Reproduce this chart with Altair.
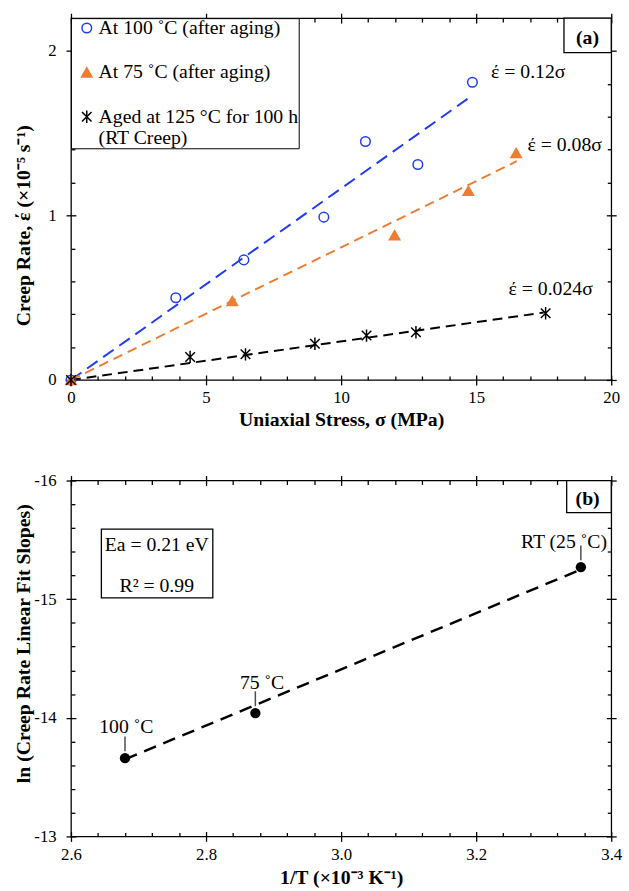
import altair as alt
import pandas as pd

SERIF = "Liberation Serif"
BLUE = "#1f3cf0"
ORANGE = "#ee7d32"
BLACK = "#000000"

# ---------------- Panel (a): creep rate vs stress ----------------
series_names = ["At 100 ˚C (after aging)", "At 75 ˚C (after aging)",
                "Aged at 125 °C for 100 h|(RT Creep)"]
stress_100 = [0, 3.88, 6.40, 9.36, 10.9, 12.84, 14.86]
rate_100 = [0, 0.50, 0.73, 0.99, 1.45, 1.31, 1.81]
stress_75 = [0, 5.97, 11.98, 14.71, 16.48]
rate_75 = [0, 0.48, 0.88, 1.15, 1.38]
stress_rt = [0, 4.41, 6.46, 9.03, 10.94, 12.77, 17.57]
rate_rt = [0, 0.14, 0.156, 0.22, 0.27, 0.29, 0.406]

fit_stress = [[0, 14.86], [0, 16.5], [0, 17.5]]
fit_rate = [[0, 1.73], [0, 1.33], [0, 0.41]]
fit_labels = ["έ = 0.12σ", "έ = 0.08σ", "έ = 0.024σ"]
fit_label_x = [15.55, 16.9, 16.2]
fit_label_y = [1.87, 1.43, 0.55]

xa_major = [0, 5, 10, 15, 20]
xa_minor = [1, 2, 3, 4, 6, 7, 8, 9, 11, 12, 13, 14, 16, 17, 18, 19]
ya_major = [0, 1, 2]
ya_minor = [0.2, 0.4, 0.6, 0.8, 1.2, 1.4, 1.6, 1.8]

panel_a_tag = ["(a)"]
tag_a_box = {"x": [18.25], "x2": [20], "y": [1.99], "y2": [2.2], "tx": [19.12], "ty": [2.08]}

# ---------------- Panel (b): Arrhenius plot ----------------
inv_T = [2.68, 2.873, 3.355]
ln_slope = [-13.66, -14.04, -15.27]
point_labels = ["100 ˚C", "75 ˚C", "RT (25 ˚C)"]
label_x = [2.682, 2.883, 3.330]
label_y = [-13.92, -14.29, -15.48]
fit_b_x = [2.68, 3.355]
fit_b_y = [-13.65, -15.25]

xb_major = [2.6, 2.8, 3.0, 3.2, 3.4]
xb_minor = [2.64, 2.68, 2.72, 2.76, 2.84, 2.88, 2.92, 2.96,
            3.04, 3.08, 3.12, 3.16, 3.24, 3.28, 3.32, 3.36]
yb_major = [-16, -15, -14, -13]
yb_minor = [-15.8, -15.6, -15.4, -15.2, -14.8, -14.6, -14.4, -14.2,
            -13.8, -13.6, -13.4, -13.2]

stats_lines = ["Ea = 0.21 eV", "R² = 0.99"]
stats_x = [2.727, 2.727]
stats_y = [-15.46, -15.11]
stats_box = {"x": [2.645], "x2": [2.81], "y": [-15.59], "y2": [-15.01]}
panel_b_tag = ["(b)"]
tag_b_box = {"x": [3.334], "x2": [3.4], "y": [-16.0], "y2": [-15.73], "tx": [3.365], "ty": [-15.84]}

# ---------------- helpers ----------------
TICK = dict(domain=False, grid=False, tickColor="black", tickWidth=1.3)


def tick_layers(df, xf, yf, xs, ys, xmaj, xmin, ymaj, ymin):
    base = alt.Chart(df).mark_point(opacity=0)
    out = []
    specs = [
        ("bottom", "left", xmin, ymin, -4, 4),
        ("top", "right", xmaj, ymaj, -5, 10),
        ("top", "right", xmin, ymin, -4, 4),
    ]
    for xo, yo, xv, yv, off, ts in specs:
        out.append(base.encode(
            x=alt.X(xf, type="quantitative", scale=xs,
                    axis=alt.Axis(orient=xo, values=xv, offset=off, tickSize=ts,
                                  labels=False, title=None, **TICK)),
            y=alt.Y(yf, type="quantitative", scale=ys,
                    axis=alt.Axis(orient=yo, values=yv, offset=off, tickSize=ts,
                                  labels=False, title=None, **TICK)),
        ))
    return out


def main_axis(orient, values, title, fmt=None, expr=None, **kw):
    args = dict(orient=orient, values=values, offset=-5, tickSize=10, title=title,
                labelFont=SERIF, labelFontSize=17, labelColor="black",
                labelFlush=False, labelOverlap=False,
                titleFont=SERIF, titleFontSize=20, titleFontWeight="bold",
                titleColor="black", titleBaseline="middle", titleAlign="center", **TICK)
    if fmt:
        args["format"] = fmt
    if expr:
        args["labelExpr"] = expr
    args.update(kw)
    return alt.Axis(**args)


# ---------------- build panel (a) ----------------
pts_a = pd.DataFrame({
    "stress": stress_100 + stress_75 + stress_rt,
    "rate": rate_100 + rate_75 + rate_rt,
    "series": [series_names[0]] * len(stress_100) + [series_names[1]] * len(stress_75)
              + [series_names[2]] * len(stress_rt),
})
xs_a = alt.Scale(domain=[0, 20], nice=False, zero=False)
ys_a = alt.Scale(domain=[0, 2.2], nice=False, zero=False)

legend = alt.Legend(title=None, orient="top-left", offset=0, padding=0,
                    strokeColor="black", fillColor="white",
                    labelFont=SERIF, labelFontSize=20, labelColor="black", labelLimit=500,
                    labelExpr="split(datum.label, '|')",
                    symbolStrokeWidth=1.5, symbolOffset=6, labelOffset=2,
                    rowPadding=25)

asterisk = "M0,-1.1L0,1.1M-0.85,-0.85L0.85,0.85M-0.85,0.85L0.85,-0.85"

points_a = alt.Chart(pts_a).mark_point(filled=False, strokeWidth=1.5, opacity=1).encode(
    x=alt.X("stress:Q", scale=xs_a,
            axis=main_axis("bottom", xa_major, "Uniaxial Stress, σ (MPa)", fmt="d",
                           labelPadding=5, titleY=45)),
    y=alt.Y("rate:Q", scale=ys_a,
            axis=main_axis("left", ya_major, "Creep Rate, έ (×10⁻⁵ s⁻¹)", fmt="d",
                           labelPadding=10, titleX=-53, titleY=210, titleAngle=270)),
    color=alt.Color("series:N", scale=alt.Scale(domain=series_names, range=[BLUE, ORANGE, BLACK]),
                    legend=legend),
    fill=alt.Fill("series:N", scale=alt.Scale(domain=series_names,
                                              range=["transparent", ORANGE, "transparent"]),
                  legend=legend),
    shape=alt.Shape("series:N", scale=alt.Scale(domain=series_names,
                                                range=["circle", "triangle-up", asterisk]),
                    legend=legend),
    size=alt.Size("series:N", scale=alt.Scale(domain=series_names, range=[95, 130, 120]),
                  legend=legend),
)

dash_styles = [[13, 7], [10, 6], [10, 6]]
line_colors = [BLUE, ORANGE, BLACK]
fit_layers = []
for i in range(3):
    df = pd.DataFrame({"stress": fit_stress[i], "rate": fit_rate[i]})
    fit_layers.append(alt.Chart(df).mark_line(color=line_colors[i], strokeDash=dash_styles[i],
                                              strokeWidth=2).encode(
        x=alt.X("stress:Q", scale=xs_a, axis=None),
        y=alt.Y("rate:Q", scale=ys_a, axis=None)))

ann_a = alt.Chart(pd.DataFrame({"x": fit_label_x, "y": fit_label_y, "t": fit_labels})).mark_text(
    font=SERIF, fontSize=20, align="left", baseline="middle", color="black").encode(
    x=alt.X("x:Q", scale=xs_a, axis=None), y=alt.Y("y:Q", scale=ys_a, axis=None), text="t:N")

tag_a_df = pd.DataFrame({**tag_a_box, "t": panel_a_tag})
tag_a_rect = alt.Chart(tag_a_df).mark_rect(fill="white", stroke="black", strokeWidth=1.3).encode(
    x=alt.X("x:Q", scale=xs_a, axis=None), x2="x2:Q",
    y=alt.Y("y:Q", scale=ys_a, axis=None), y2="y2:Q")
tag_a_text = alt.Chart(tag_a_df).mark_text(font=SERIF, fontSize=20, fontWeight="bold",
                                            baseline="middle", color="black").encode(
    x=alt.X("tx:Q", scale=xs_a, axis=None), y=alt.Y("ty:Q", scale=ys_a, axis=None), text="t:N")

panel_a = alt.layer(
    *fit_layers, points_a, ann_a, tag_a_rect, tag_a_text,
    *tick_layers(pts_a, "stress", "rate", xs_a, ys_a, xa_major, xa_minor, ya_major, ya_minor)
).resolve_scale(x="shared", y="shared").resolve_axis(x="independent", y="independent").properties(
    width=548, height=367)

# ---------------- build panel (b) ----------------
xs_b = alt.Scale(domain=[2.6, 3.4], nice=False, zero=False)
ys_b = alt.Scale(domain=[-16, -13], nice=False, zero=False, reverse=True)

pts_b = pd.DataFrame({"invT": inv_T, "ln": ln_slope, "lab": point_labels,
                      "lx": label_x, "ly": label_y})

fit_b = alt.Chart(pd.DataFrame({"invT": fit_b_x, "ln": fit_b_y})).mark_line(
    color="black", strokeDash=[13, 8], strokeWidth=2.5).encode(
    x=alt.X("invT:Q", scale=xs_b, axis=None), y=alt.Y("ln:Q", scale=ys_b, axis=None))

points_b = alt.Chart(pts_b).mark_circle(size=110, color="black", opacity=1).encode(
    x=alt.X("invT:Q", scale=xs_b,
            axis=main_axis("bottom", xb_major, "1/T (×10⁻³ K⁻¹)", fmt=".1f",
                           labelPadding=5, titleY=47)),
    y=alt.Y("ln:Q", scale=ys_b,
            axis=main_axis("left", yb_major, "ln (Creep Rate Linear Fit Slopes)",
                           expr="datum.value + ''",
                           labelPadding=10, titleX=-53, titleY=165, titleAngle=270)),
)

leaders_b = alt.Chart(pts_b).mark_tick(orient="vertical", size=15, thickness=1.5, color="black",
                                       yOffset=-14.5).encode(
    x=alt.X("invT:Q", scale=xs_b, axis=None), y=alt.Y("ln:Q", scale=ys_b, axis=None))

labels_b = alt.Chart(pts_b).mark_text(font=SERIF, fontSize=20, baseline="middle",
                                      color="black").encode(
    x=alt.X("lx:Q", scale=xs_b, axis=None), y=alt.Y("ly:Q", scale=ys_b, axis=None), text="lab:N")

stats_rect = alt.Chart(pd.DataFrame(stats_box)).mark_rect(fill="white", stroke="black",
                                                          strokeWidth=1.3).encode(
    x=alt.X("x:Q", scale=xs_b, axis=None), x2="x2:Q",
    y=alt.Y("y:Q", scale=ys_b, axis=None), y2="y2:Q")
stats_text = alt.Chart(pd.DataFrame({"x": stats_x, "y": stats_y, "t": stats_lines})).mark_text(
    font=SERIF, fontSize=20, baseline="middle", color="black").encode(
    x=alt.X("x:Q", scale=xs_b, axis=None), y=alt.Y("y:Q", scale=ys_b, axis=None), text="t:N")

tag_b_df = pd.DataFrame({**tag_b_box, "t": panel_b_tag})
tag_b_rect = alt.Chart(tag_b_df).mark_rect(fill="white", stroke="black", strokeWidth=1.3).encode(
    x=alt.X("x:Q", scale=xs_b, axis=None), x2="x2:Q",
    y=alt.Y("y:Q", scale=ys_b, axis=None), y2="y2:Q")
tag_b_text = alt.Chart(tag_b_df).mark_text(font=SERIF, fontSize=20, fontWeight="bold",
                                            baseline="middle", color="black").encode(
    x=alt.X("tx:Q", scale=xs_b, axis=None), y=alt.Y("ty:Q", scale=ys_b, axis=None), text="t:N")

panel_b = alt.layer(
    fit_b, points_b, leaders_b, labels_b, stats_rect, stats_text, tag_b_rect, tag_b_text,
    *tick_layers(pts_b, "invT", "ln", xs_b, ys_b, xb_major, xb_minor, yb_major, yb_minor)
).resolve_scale(x="shared", y="shared").resolve_axis(x="independent", y="independent").properties(
    width=548, height=361)

chart = alt.vconcat(panel_a, panel_b, spacing=41).properties(
    padding={"left": 13, "top": 5, "right": 6, "bottom": 0},
    background="white",
).configure_view(stroke="black", strokeWidth=1.3)

chart.save("out.html", embed_options={"renderer": "svg", "actions": False})
